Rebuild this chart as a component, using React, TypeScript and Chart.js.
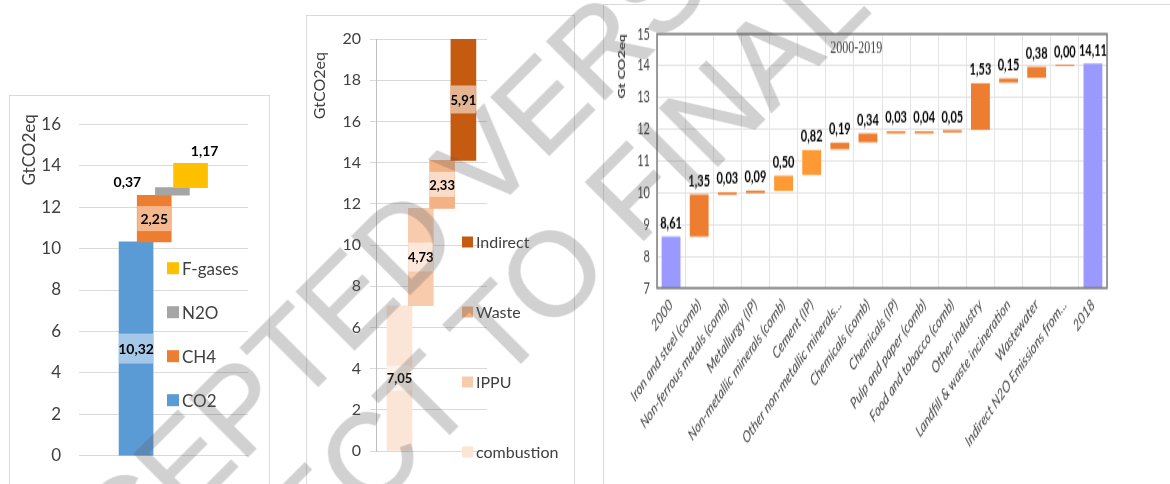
import React, { useEffect, useRef } from 'react';
import { Chart, registerables } from 'chart.js';

Chart.register(...registerables);

const SANS = 'Lato, "Open Sans", "DejaVu Sans", sans-serif';
const SERIF = '"Liberation Serif", "DejaVu Serif", serif';

// ---------- Panel 1: by gas ----------
const gasNames = ['CO2', 'CH4', 'N2O', 'F-gases'];
const gasStart = [0, 10.32, 12.57, 12.94];
const gasEnd = [10.32, 12.57, 12.94, 14.11];
const gasValues = [10.32, 2.25, 0.37, 1.17];
const gasColors = ['#5B9BD5', '#ED7D31', '#A5A5A5', '#FFC000'];
const gasTicks = [0, 2, 4, 6, 8, 10, 12, 14, 16];

// ---------- Panel 2: by sector ----------
const sectorNames = ['combustion', 'IPPU', 'Waste', 'Indirect'];
const sectorStart = [0, 7.05, 11.78, 14.11];
const sectorEnd = [7.05, 11.78, 14.11, 20.02];
const sectorValues = [7.05, 4.73, 2.33, 5.91];
const sectorColors = ['#FBE5D6', '#F8CBAD', '#F4B183', '#C55A11'];
const sectorTicks = [0, 2, 4, 6, 8, 10, 12, 14, 16, 18, 20];

// ---------- Panel 3: industry 2000-2019 ----------
const industryPeriod = '2000-2019';
const industryCategories = [
  '2000',
  'Iron and steel (comb)',
  'Non-ferrous metals (comb)',
  'Metallurgy (IP)',
  'Non-metallic minerals (comb)',
  'Cement (IP)',
  'Other non-metallic minerals...',
  'Chemicals (comb)',
  'Chemicals (IP)',
  'Pulp and paper (comb)',
  'Food and tobacco (comb)',
  'Other industry',
  'Landfill & waste incineration',
  'Wastewater',
  'Indirect N2O Emissions from...',
  '2018',
];
const industryStart = [0, 8.62, 9.94, 9.99, 10.06, 10.56, 11.37, 11.59, 11.87, 11.87, 11.9, 11.98, 13.47, 13.62, 14.0, 0];
const industryEnd = [8.62, 9.95, 10.02, 10.07, 10.54, 11.35, 11.58, 11.87, 11.94, 11.94, 11.97, 13.45, 13.6, 13.97, 14.04, 14.08];
const industryValues = [8.61, 1.35, 0.03, 0.09, 0.5, 0.82, 0.19, 0.34, 0.03, 0.04, 0.05, 1.53, 0.15, 0.38, 0.0, 14.11];
const industryColors = [
  '#9999FF', '#ED7D31', '#ED7D31', '#ED7D31', '#FF9933', '#FF9933', '#ED7D31', '#ED7D31',
  '#ED7D31', '#ED7D31', '#ED7D31', '#ED7D31', '#ED7D31', '#ED7D31', '#ED7D31', '#9999FF',
];
const industryTicks = [7, 8, 9, 10, 11, 12, 13, 14, 15];

const watermarkLines = ['ACCEPTED VERSION', 'SUBJECT TO FINAL EDITS'];

const fmt = (v: number) => v.toFixed(2).replace('.', ',');

type LabelSpec =
  | { mode: 'band'; h: number }
  | { mode: 'offset'; dx: number; dy: number };

function valueLabels(values: number[], specs: LabelSpec[], font: string, band: string) {
  return {
    id: 'valueLabels',
    afterDatasetsDraw(chart: any) {
      const { ctx } = chart;
      const meta = chart.getDatasetMeta(0);
      ctx.save();
      meta.data.forEach((bar: any, i: number) => {
        const p = bar.getProps(['x', 'y', 'base', 'width'], true);
        const top = Math.min(p.y, p.base);
        const bottom = Math.max(p.y, p.base);
        const spec = specs[i];
        ctx.font = font;
        ctx.textAlign = 'center';
        if (spec.mode === 'band') {
          const cy = (top + bottom) / 2;
          ctx.fillStyle = band;
          ctx.fillRect(p.x - p.width / 2, cy - spec.h / 2, p.width, spec.h);
          ctx.fillStyle = '#000';
          ctx.textBaseline = 'middle';
          ctx.fillText(fmt(values[i]), p.x, cy + 1);
        } else {
          ctx.fillStyle = '#000';
          ctx.textBaseline = 'middle';
          ctx.fillText(fmt(values[i]), p.x + spec.dx, top + spec.dy);
        }
      });
      ctx.restore();
    },
  };
}

function insideLegend(names: string[], colors: string[], o: { dx: number; y0: number; step: number; box: number; font: string }) {
  return {
    id: 'insideLegend',
    afterDatasetsDraw(chart: any) {
      const { ctx, chartArea } = chart;
      ctx.save();
      ctx.font = o.font;
      ctx.textAlign = 'left';
      ctx.textBaseline = 'middle';
      const n = names.length;
      for (let k = 0; k < n; k++) {
        const idx = n - 1 - k;
        const y = chartArea.top + o.y0 + k * o.step;
        const x = chartArea.left + o.dx;
        ctx.fillStyle = colors[idx];
        ctx.fillRect(x, y - o.box / 2, o.box, o.box);
        ctx.fillStyle = '#404040';
        ctx.fillText(names[idx], x + o.box + 3, y + 1);
      }
      ctx.restore();
    },
  };
}

function sideTitle(text: string, font: string, cx: number, dyTop: number) {
  return {
    id: 'sideTitle',
    afterDraw(chart: any) {
      const { ctx, chartArea } = chart;
      ctx.save();
      ctx.translate(cx, chartArea.top + dyTop);
      ctx.rotate(-Math.PI / 2);
      ctx.font = font;
      ctx.fillStyle = '#404040';
      ctx.textAlign = 'right';
      ctx.textBaseline = 'middle';
      ctx.fillText(text, 0, 0);
      ctx.restore();
    },
  };
}

const plotFrame = {
  id: 'plotFrame',
  afterDatasetsDraw(chart: any) {
    const { ctx, chartArea } = chart;
    ctx.save();
    ctx.strokeStyle = '#7F7F7F';
    ctx.lineWidth = 1.5;
    ctx.strokeRect(chartArea.left, chartArea.top, chartArea.right - chartArea.left, chartArea.bottom - chartArea.top);
    ctx.restore();
  },
};

function innerTitle(text: string, fx: number, dy: number) {
  return {
    id: 'innerTitle',
    afterDatasetsDraw(chart: any) {
      const { ctx, chartArea } = chart;
      ctx.save();
      ctx.font = `12px ${SERIF}`;
      ctx.fillStyle = '#404040';
      ctx.textAlign = 'center';
      ctx.textBaseline = 'middle';
      ctx.fillText(text, chartArea.left + fx * (chartArea.right - chartArea.left), chartArea.top + dy);
      ctx.restore();
    },
  };
}

function GasPanel() {
  const ref = useRef<HTMLCanvasElement>(null);
  useEffect(() => {
    const chart = new Chart(ref.current as HTMLCanvasElement, {
      type: 'bar',
      data: {
        datasets: [
          {
            data: gasNames.map((_, i) => ({ x: i, y: [gasStart[i], gasEnd[i]] })) as any,
            backgroundColor: gasColors,
            barThickness: 34,
          },
        ],
      },
      options: {
        responsive: false,
        animation: false,
        layout: { padding: { top: 26, right: 20, bottom: 27, left: 0 } },
        plugins: { legend: { display: false }, tooltip: { enabled: false } },
        scales: {
          x: { type: 'linear', min: -3.14, max: 6.16, display: false, offset: false },
          y: {
            min: 0,
            max: 16,
            afterFit: (s: any) => { s.width = 69; },
            afterBuildTicks: (s: any) => { s.ticks = gasTicks.map((v) => ({ value: v })); },
            grid: { color: '#D9D9D9', drawTicks: false },
            border: { display: false },
            ticks: { padding: 18, color: '#404040', font: { family: SANS, size: 17 } },
          },
        },
      } as any,
      plugins: [
        valueLabels(
          gasValues,
          [
            { mode: 'band', h: 30 },
            { mode: 'band', h: 25 },
            { mode: 'offset', dx: -45, dy: -5 },
            { mode: 'offset', dx: 14, dy: -12 },
          ],
          `bold 14px ${SANS}`,
          'rgba(255,255,255,0.45)'
        ),
        insideLegend(gasNames, gasColors, { dx: 88, y0: 144, step: 44, box: 12, font: `17px ${SANS}` }),
        sideTitle('GtCO2eq', `17px ${SANS}`, 20, -10),
      ],
    });
    return () => chart.destroy();
  }, []);
  return <canvas ref={ref} width={258} height={388} style={{ position: 'absolute', left: 10, top: 96 }} />;
}

function SectorPanel() {
  const ref = useRef<HTMLCanvasElement>(null);
  useEffect(() => {
    const chart = new Chart(ref.current as HTMLCanvasElement, {
      type: 'bar',
      data: {
        datasets: [
          {
            data: sectorNames.map((_, i) => ({ x: i, y: [sectorStart[i], sectorEnd[i]] })) as any,
            backgroundColor: sectorColors,
            barThickness: 25,
          },
        ],
      },
      options: {
        responsive: false,
        animation: false,
        layout: { padding: { top: 23, right: 86, bottom: 33, left: 0 } },
        plugins: { legend: { display: false }, tooltip: { enabled: false } },
        scales: {
          x: { type: 'linear', min: -1.103, max: 4.108, display: false, offset: false },
          y: {
            min: 0,
            max: 20,
            afterFit: (s: any) => { s.width = 69; },
            afterBuildTicks: (s: any) => { s.ticks = sectorTicks.map((v) => ({ value: v })); },
            grid: { color: '#D9D9D9', drawTicks: true, tickLength: 6 },
            border: { display: true, color: '#BFBFBF' },
            ticks: { padding: 9, color: '#404040', font: { family: SANS, size: 16 } },
          },
        },
      } as any,
      plugins: [
        valueLabels(
          sectorValues,
          [
            { mode: 'band', h: 25 },
            { mode: 'band', h: 29 },
            { mode: 'band', h: 25 },
            { mode: 'band', h: 28 },
          ],
          `bold 13px ${SANS}`,
          'rgba(255,255,255,0.55)'
        ),
        insideLegend(sectorNames, sectorColors, { dx: 86, y0: 203, step: 70, box: 11, font: `16px ${SANS}` }),
        sideTitle('GtCO2eq', `16px ${SANS}`, 13, 13),
      ],
    });
    return () => chart.destroy();
  }, []);
  return <canvas ref={ref} width={266} height={468} style={{ position: 'absolute', left: 307, top: 16 }} />;
}

function IndustryPanel() {
  const ref = useRef<HTMLCanvasElement>(null);
  useEffect(() => {
    const chart = new Chart(ref.current as HTMLCanvasElement, {
      type: 'bar',
      data: {
        labels: industryCategories,
        datasets: [
          {
            data: industryCategories.map((_, i) => [industryStart[i], industryEnd[i]]) as any,
            backgroundColor: industryColors,
            barPercentage: 0.67,
            categoryPercentage: 1,
          },
        ],
      },
      options: {
        responsive: false,
        animation: false,
        layout: { padding: { top: 20, right: 63, bottom: 0, left: 0 } },
        plugins: { legend: { display: false }, tooltip: { enabled: false } },
        scales: {
          x: {
            afterFit: (s: any) => { s.height = 135; },
            grid: { color: '#E3E3E3', drawTicks: false },
            border: { display: false },
            ticks: {
              autoSkip: false,
              maxRotation: 45,
              minRotation: 45,
              padding: 5,
              color: '#404040',
              font: { family: SANS, size: 11, style: 'italic' },
            },
          },
          y: {
            min: 7,
            max: 15,
            afterFit: (s: any) => { s.width = 53; },
            afterBuildTicks: (s: any) => { s.ticks = industryTicks.map((v) => ({ value: v })); },
            grid: { color: '#E3E3E3', drawTicks: false },
            border: { display: false },
            ticks: { padding: 7, color: '#404040', font: { family: SANS, size: 11 } },
            title: {
              display: true,
              text: 'Gt CO2eq',
              align: 'end',
              color: '#404040',
              font: { family: SANS, size: 10, weight: 'bold' },
              padding: { top: 12, bottom: 0 },
            },
          },
        },
      } as any,
      plugins: [
        plotFrame,
        innerTitle(industryPeriod, 0.443, 9.6),
        valueLabels(
          industryValues,
          industryValues.map(() => ({ mode: 'offset', dx: 0, dy: -9 } as LabelSpec)),
          `bold 11px ${SANS}`,
          'transparent'
        ),
      ],
    });
    return () => chart.destroy();
  }, []);
  return (
    <canvas
      ref={ref}
      width={566}
      height={330}
      style={{ position: 'absolute', left: 604, top: 5, width: '566px', height: '479px' }}
    />
  );
}

function Watermark() {
  return (
    <div
      style={{
        position: 'absolute',
        left: 0,
        top: 0,
        width: 0,
        height: 0,
        transform: 'rotate(-45deg)',
        transformOrigin: '0 0',
        pointerEvents: 'none',
        opacity: 0.28,
      }}
    >
      {watermarkLines.map((t, i) => (
        <span
          key={t}
          style={{
            position: 'absolute',
            left: -485,
            top: 398 + i * 127,
            fontFamily: '"Liberation Sans", Arial, sans-serif',
            fontSize: 118,
            lineHeight: '118px',
            whiteSpace: 'nowrap',
            color: 'rgb(90,90,90)',
            WebkitTextStroke: '1.5px rgb(90,90,90)',
          }}
        >
          {t}
        </span>
      ))}
    </div>
  );
}

export default function App() {
  return (
    <div
      style={{
        position: 'fixed',
        left: 0,
        top: 0,
        width: 1170,
        height: 484,
        overflow: 'hidden',
        background: '#fff',
      }}
    >
      <div style={{ position: 'absolute', left: 9, top: 95, width: 261, height: 420, border: '1px solid #D9D9D9', boxSizing: 'border-box' }} />
      <div style={{ position: 'absolute', left: 306, top: 15, width: 269, height: 500, border: '1px solid #D9D9D9', boxSizing: 'border-box' }} />
      <div style={{ position: 'absolute', left: 603, top: 4, width: 600, height: 520, border: '1px solid #D9D9D9', boxSizing: 'border-box' }} />
      <GasPanel />
      <SectorPanel />
      <IndustryPanel />
      <Watermark />
    </div>
  );
}
